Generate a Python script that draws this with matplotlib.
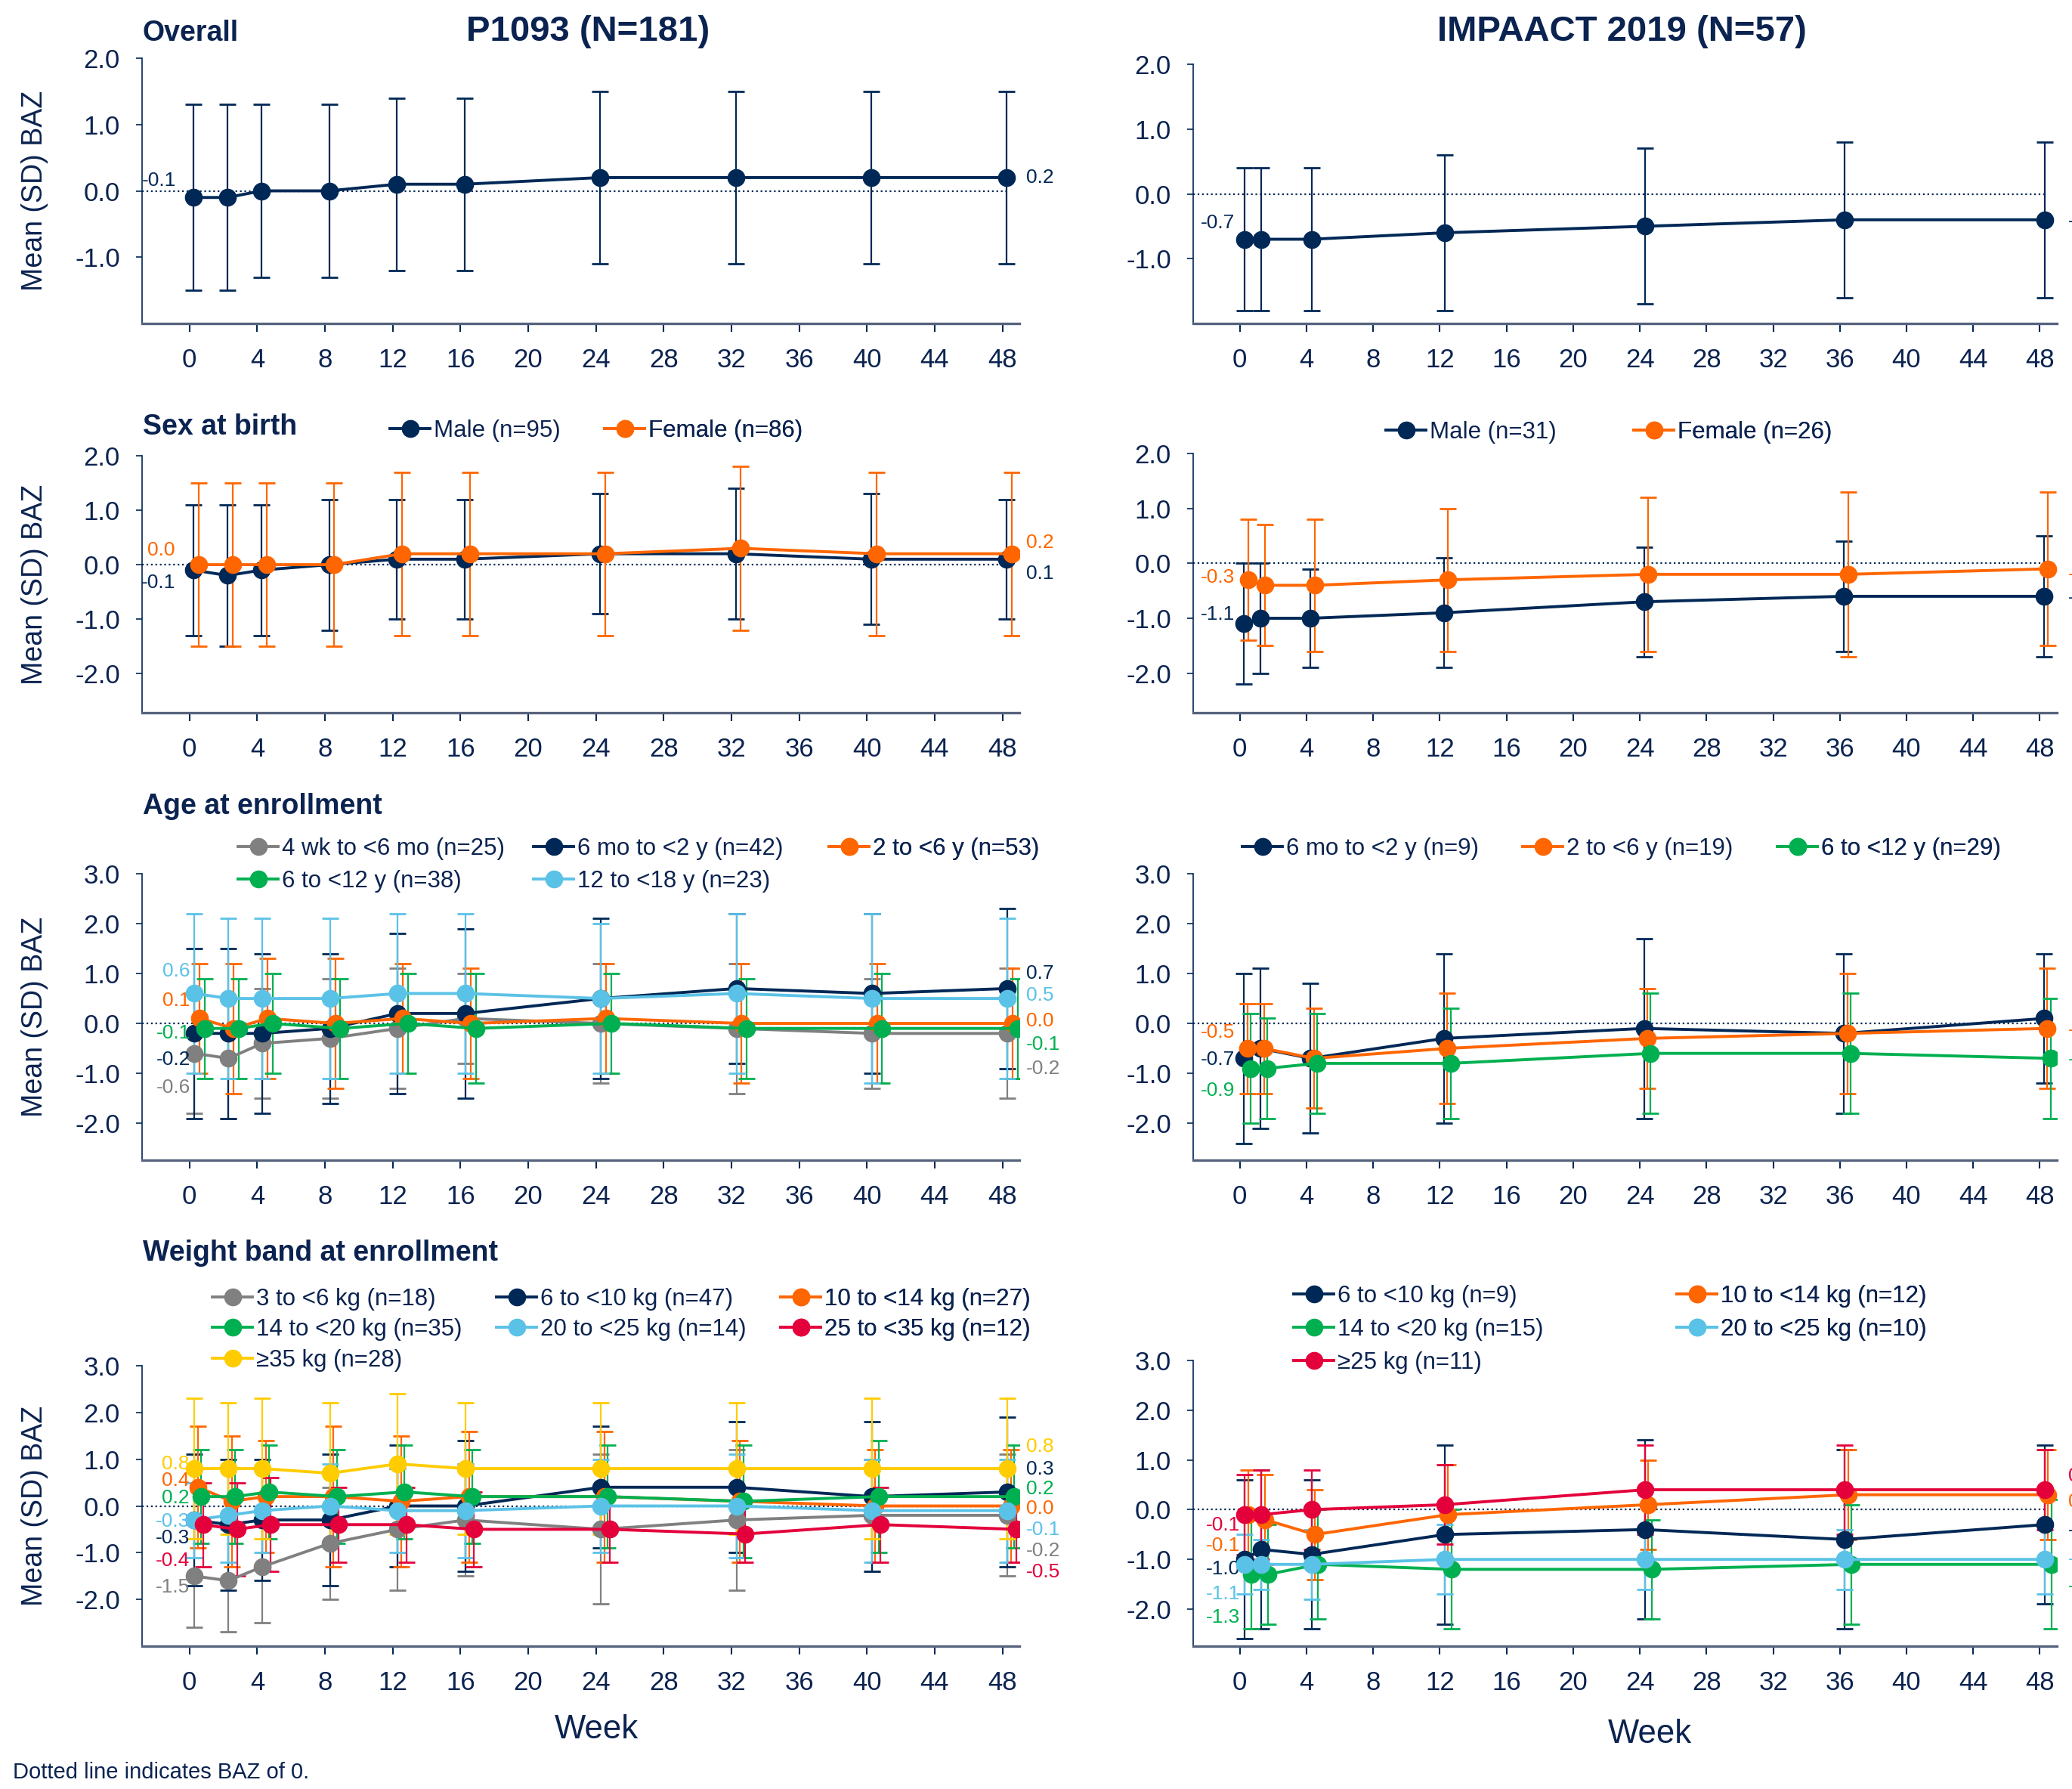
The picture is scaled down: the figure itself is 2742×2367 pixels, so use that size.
import matplotlib.pyplot as plt
from matplotlib.ticker import FormatStrFormatter

plt.rcParams['font.family'] = ['Liberation Sans', 'DejaVu Sans']

# ---------------- data ----------------
p1093_weeks = [0, 2, 4, 8, 12, 16, 24, 32, 40, 48]
impaact_weeks = [0, 1, 4, 12, 24, 36, 48]
week_ticks = list(range(0, 49, 4))

# Overall
p1093_all_mean = [[-0.1, -0.1, 0.0, 0.0, 0.1, 0.1, 0.2, 0.2, 0.2, 0.2]]
p1093_all_sd = [[1.4, 1.4, 1.3, 1.3, 1.3, 1.3, 1.3, 1.3, 1.3, 1.3]]
impaact_all_mean = [[-0.7, -0.7, -0.7, -0.6, -0.5, -0.4, -0.4]]
impaact_all_sd = [[1.1, 1.1, 1.1, 1.2, 1.2, 1.2, 1.2]]

# Sex at birth (male, female)
sex_labels_p1093 = ['Male (n=95)', 'Female (n=86)']
sex_p1093_mean = [[-0.1, -0.2, -0.1, 0.0, 0.1, 0.1, 0.2, 0.2, 0.1, 0.1],
                  [0.0, 0.0, 0.0, 0.0, 0.2, 0.2, 0.2, 0.3, 0.2, 0.2]]
sex_p1093_sd = [[1.2, 1.3, 1.2, 1.2, 1.1, 1.1, 1.1, 1.2, 1.2, 1.1],
                [1.5, 1.5, 1.5, 1.5, 1.5, 1.5, 1.5, 1.5, 1.5, 1.5]]
sex_labels_impaact = ['Male (n=31)', 'Female (n=26)']
sex_impaact_mean = [[-1.1, -1.0, -1.0, -0.9, -0.7, -0.6, -0.6],
                    [-0.3, -0.4, -0.4, -0.3, -0.2, -0.2, -0.1]]
sex_impaact_sd = [[1.1, 1.0, 0.9, 1.0, 1.0, 1.0, 1.1],
                  [1.1, 1.1, 1.2, 1.3, 1.4, 1.5, 1.4]]

# Age at enrollment
age_labels_p1093 = ['4 wk to <6 mo (n=25)', '6 mo to <2 y (n=42)', '2 to <6 y (n=53)',
                    '6 to <12 y (n=38)', '12 to <18 y (n=23)']
age_p1093_mean = [[-0.6, -0.7, -0.4, -0.3, -0.1, 0.1, 0.0, -0.1, -0.2, -0.2],
                  [-0.2, -0.2, -0.2, -0.1, 0.2, 0.2, 0.5, 0.7, 0.6, 0.7],
                  [0.1, -0.1, 0.1, 0.0, 0.1, 0.0, 0.1, 0.0, 0.0, 0.0],
                  [-0.1, -0.1, 0.0, -0.1, 0.0, -0.1, 0.0, -0.1, -0.1, -0.1],
                  [0.6, 0.5, 0.5, 0.5, 0.6, 0.6, 0.5, 0.6, 0.5, 0.5]]
age_p1093_sd = [[1.2, 1.2, 1.1, 1.2, 1.2, 0.9, 1.2, 1.3, 1.1, 1.3],
                [1.7, 1.7, 1.6, 1.5, 1.6, 1.7, 1.6, 1.5, 1.6, 1.6],
                [1.1, 1.3, 1.2, 1.3, 1.1, 1.1, 1.1, 1.2, 1.2, 1.1],
                [1.0, 1.0, 1.0, 1.0, 1.0, 1.1, 1.0, 1.0, 1.1, 1.0],
                [1.6, 1.6, 1.6, 1.6, 1.6, 1.6, 1.5, 1.6, 1.7, 1.6]]
age_labels_impaact = ['6 mo to <2 y (n=9)', '2 to <6 y (n=19)', '6 to <12 y (n=29)']
age_impaact_mean = [[-0.7, -0.5, -0.7, -0.3, -0.1, -0.2, 0.1],
                    [-0.5, -0.5, -0.7, -0.5, -0.3, -0.2, -0.1],
                    [-0.9, -0.9, -0.8, -0.8, -0.6, -0.6, -0.7]]
age_impaact_sd = [[1.7, 1.6, 1.5, 1.7, 1.8, 1.6, 1.3],
                  [0.9, 0.9, 1.0, 1.1, 1.0, 1.2, 1.2],
                  [1.1, 1.0, 1.0, 1.1, 1.2, 1.2, 1.2]]

# Weight band at enrollment
weight_labels_p1093 = ['3 to <6 kg (n=18)', '6 to <10 kg (n=47)', '10 to <14 kg (n=27)',
                       '14 to <20 kg (n=35)', '20 to <25 kg (n=14)', '25 to <35 kg (n=12)',
                       '\u226535 kg (n=28)']
weight_p1093_mean = [[-1.5, -1.6, -1.3, -0.8, -0.5, -0.3, -0.5, -0.3, -0.2, -0.2],
                     [-0.3, -0.4, -0.3, -0.3, 0.0, 0.0, 0.4, 0.4, 0.2, 0.3],
                     [0.4, 0.1, 0.2, 0.2, 0.1, 0.2, 0.2, 0.1, 0.0, 0.0],
                     [0.2, 0.2, 0.3, 0.2, 0.3, 0.2, 0.2, 0.1, 0.2, 0.2],
                     [-0.3, -0.2, -0.1, 0.0, -0.1, -0.1, 0.0, 0.0, -0.1, -0.1],
                     [-0.4, -0.5, -0.4, -0.4, -0.4, -0.5, -0.5, -0.6, -0.4, -0.5],
                     [0.8, 0.8, 0.8, 0.7, 0.9, 0.8, 0.8, 0.8, 0.8, 0.8]]
weight_p1093_sd = [[1.1, 1.1, 1.2, 1.2, 1.3, 1.2, 1.6, 1.5, 1.2, 1.3],
                   [1.4, 1.4, 1.3, 1.4, 1.3, 1.4, 1.3, 1.4, 1.6, 1.6],
                   [1.3, 1.4, 1.2, 1.5, 1.4, 1.4, 1.4, 1.3, 1.2, 1.2],
                   [1.0, 1.0, 1.0, 1.0, 1.0, 1.0, 1.1, 1.2, 1.2, 1.1],
                   [0.8, 1.0, 0.9, 0.9, 0.9, 1.0, 1.0, 1.1, 1.1, 1.1],
                   [0.9, 1.0, 1.0, 0.8, 0.8, 0.8, 0.7, 0.6, 0.8, 0.7],
                   [1.5, 1.4, 1.5, 1.5, 1.5, 1.4, 1.4, 1.4, 1.5, 1.5]]
weight_labels_impaact = ['6 to <10 kg (n=9)', '10 to <14 kg (n=12)', '14 to <20 kg (n=15)',
                         '20 to <25 kg (n=10)', '\u226525 kg (n=11)']
weight_impaact_mean = [[-1.0, -0.8, -0.9, -0.5, -0.4, -0.6, -0.3],
                       [-0.1, -0.2, -0.5, -0.1, 0.1, 0.3, 0.3],
                       [-1.3, -1.3, -1.1, -1.2, -1.2, -1.1, -1.1],
                       [-1.1, -1.1, -1.1, -1.0, -1.0, -1.0, -1.0],
                       [-0.1, -0.1, 0.0, 0.1, 0.4, 0.4, 0.4]]
weight_impaact_sd = [[1.6, 1.6, 1.5, 1.8, 1.8, 1.8, 1.6],
                     [0.9, 0.9, 0.9, 1.0, 0.9, 0.9, 0.9],
                     [1.1, 1.0, 1.1, 1.2, 1.0, 1.2, 1.3],
                     [0.6, 0.5, 0.7, 0.7, 0.6, 0.6, 0.7],
                     [0.8, 0.9, 0.8, 0.8, 0.9, 0.9, 0.8]]

# ---------------- style ----------------
NAVY = '#002856'
ORANGE = '#FF6600'
GREY = '#808080'
GREEN = '#00B050'
LBLUE = '#5BC2E7'
RED = '#E4003B'
YELLOW = '#FFCC00'
TEXT = '#0B2350'
AXIS = '#56637D'

W, H = 2742, 2367
fig = plt.figure(figsize=(W / 100, H / 100), dpi=100)


def fx(px):
    return px / W


def fy(py):
    return 1 - py / H


def panel(rect, weeks, means, sds, colors, offsets, labels, ylim, left_y, right_y,
          left_x, right_x=49.4):
    ax = fig.add_axes(rect)
    xlo, xhi = -2.8, 49.0
    for m, s, c, off, lab, ly, ry in zip(means, sds, colors, offsets, labels, left_y, right_y):
        x = [w + off for w in weeks]
        ax.errorbar(x, m, yerr=s, fmt='none', ecolor=c, elinewidth=1.6,
                    capsize=8, capthick=2, zorder=2)
        ax.plot(x, m, '-o', color=c, lw=2.8, ms=16, label=lab, zorder=3)
        if ly is not None:
            ax.text(left_x, ly, f'{m[0]:.1f}', ha='right', va='center', color=c,
                    fontsize=19, clip_on=False)
        if ry is not None:
            ax.text(right_x, ry, f'{m[-1]:.1f}', ha='left', va='center', color=c,
                    fontsize=19, clip_on=False)
    ax.axhline(0, xmin=0, xmax=(48.3 - xlo) / (xhi - xlo), color=NAVY, lw=1.6,
               ls=':', zorder=1)
    ax.set_xlim(xlo, xhi)
    ax.set_ylim(*ylim)
    ax.set_xticks(week_ticks)
    ax.set_yticks([t for t in range(-3, 4) if ylim[0] + 0.05 < t <= ylim[1]])
    ax.yaxis.set_major_formatter(FormatStrFormatter('%.1f'))
    for s in ['top', 'right']:
        ax.spines[s].set_visible(False)
    ax.spines['left'].set_color(NAVY)
    ax.spines['left'].set_linewidth(1.2)
    ax.spines['bottom'].set_color(AXIS)
    ax.spines['bottom'].set_linewidth(2.4)
    ax.tick_params(axis='x', length=8, width=1.5, color=NAVY, labelsize=25,
                   labelcolor=TEXT, pad=15)
    ax.tick_params(axis='y', length=6, width=1.2, color=NAVY, labelsize=25,
                   labelcolor=TEXT, pad=15)
    ax.set_facecolor('none')
    return ax


def legend_cols(ax, cols, ytop_px, spacing=0.38):
    # one legend per column so columns sit at fixed x like the original
    h, l = ax.get_legend_handles_labels()
    for x_px, idx in cols:
        leg = ax.legend([h[i] for i in idx], [l[i] for i in idx], loc='upper left',
                        bbox_to_anchor=(fx(x_px), fy(ytop_px)),
                        bbox_transform=fig.transFigure, frameon=False, fontsize=22.5,
                        handlelength=1.7, handletextpad=0.15, borderpad=0,
                        borderaxespad=0, labelspacing=spacing, labelcolor=TEXT)
        ax.add_artist(leg)


L, WL = fx(188), 1161 / W
R, WR = fx(1579), 1142.5 / W

# Row 1 - overall
panel([L, fy(428), WL, 351 / H], p1093_weeks, p1093_all_mean, p1093_all_sd,
      [NAVY], [0.25], [None], (-2, 2), [0.15], [0.2], -0.8)
panel([R, fy(428), WR, 343 / H], impaact_weeks, impaact_all_mean, impaact_all_sd,
      [NAVY], [0.3], [None], (-2, 2), [-0.45], [-0.43], -0.3, 49.7)

# Row 2 - sex
ax = panel([L, fy(943), WL, 340 / H], p1093_weeks, sex_p1093_mean, sex_p1093_sd,
           [NAVY, ORANGE], [0.25, 0.55], sex_labels_p1093, (-2.72, 2),
           [-0.33, 0.26], [-0.16, 0.4], -0.85)
legend_cols(ax, [(516, [0]), (800, [1])], 555)
ax = panel([R, fy(943), WR, 343 / H], impaact_weeks, sex_impaact_mean, sex_impaact_sd,
           [NAVY, ORANGE], [0.25, 0.5], sex_labels_impaact, (-2.72, 2),
           [-0.93, -0.26], [-0.63, -0.2], -0.3, 49.7)
legend_cols(ax, [(1834, [0]), (2162, [1])], 557)

# Row 3 - age
ax = panel([L, fy(1535), WL, 379 / H], p1093_weeks, age_p1093_mean, age_p1093_sd,
           [GREY, NAVY, ORANGE, GREEN, LBLUE], [0.3, 0.3, 0.6, 0.9, 0.3],
           age_labels_p1093, (-2.74, 3),
           [-1.28, -0.73, 0.45, -0.2, 1.04], [-0.9, 1.0, 0.05, -0.42, 0.56], 0.05)
legend_cols(ax, [(315, [0, 3]), (706, [1, 4]), (1097, [2])], 1108, 0.4)
ax = panel([R, fy(1535), WR, 379 / H], impaact_weeks, age_impaact_mean, age_impaact_sd,
           [NAVY, ORANGE, GREEN], [0.25, 0.45, 0.65], age_labels_impaact, (-2.74, 3),
           [-0.72, -0.18, -1.35], [None, -0.13, -0.72], -0.3, 49.7)
legend_cols(ax, [(1644, [0]), (2015, [1]), (2352, [2])], 1108)

# Row 4 - weight
ax = panel([L, fy(2178), WL, 371 / H], p1093_weeks, weight_p1093_mean, weight_p1093_sd,
           [GREY, NAVY, ORANGE, GREEN, LBLUE, RED, YELLOW],
           [0.3, 0.3, 0.5, 0.7, 0.3, 0.8, 0.3], weight_labels_p1093, (-3, 3),
           [-1.74, -0.69, 0.54, 0.17, -0.33, -1.18, 0.89],
           [-0.96, 0.79, -0.06, 0.37, -0.51, -1.41, 1.27], 0.0)
legend_cols(ax, [(281, [0, 3, 6]), (657, [1, 4]), (1033, [2, 5])], 1704, 0.33)
ax = panel([R, fy(2177.7), WR, 377.7 / H], impaact_weeks, weight_impaact_mean,
           weight_impaact_sd, [NAVY, ORANGE, GREEN, LBLUE, RED],
           [0.3, 0.5, 0.7, 0.3, 0.3], weight_labels_impaact, (-2.74, 3),
           [-1.2, -0.72, -2.16, -1.69, -0.31], [-0.42, 0.16, -1.54, -1.0, 0.67], 0.0, 49.7)
legend_cols(ax, [(1712, [0, 2, 4]), (2219, [1, 3])], 1700, 0.45)

# ---------------- texts ----------------
fig.text(fx(778), fy(42), 'P1093 (N=181)', ha='center', va='center', fontsize=34,
         fontweight='bold', color=TEXT)
fig.text(fx(2146), fy(42), 'IMPAACT 2019 (N=57)', ha='center', va='center', fontsize=34,
         fontweight='bold', color=TEXT)
for txt, y in [('Overall', 44), ('Sex at birth', 565), ('Age at enrollment', 1067),
               ('Weight band at enrollment', 1658)]:
    fig.text(fx(189), fy(y), txt, ha='left', va='center', fontsize=27,
             fontweight='bold', color=TEXT)
for y in [252, 773, 1345, 1992]:
    fig.text(fx(46), fy(y), 'Mean (SD) BAZ', ha='center', va='center', rotation=90,
             fontsize=27, color=TEXT)
fig.text(fx(789), fy(2288), 'Week', ha='center', va='center', fontsize=31.5, color=TEXT)
fig.text(fx(2183), fy(2295), 'Week', ha='center', va='center', fontsize=31.5, color=TEXT)
fig.text(fx(17), fy(2345), 'Dotted line indicates BAZ of 0.', ha='left', va='center',
         fontsize=21, color=TEXT)

fig.savefig('out.png', dpi=100, facecolor='white')
